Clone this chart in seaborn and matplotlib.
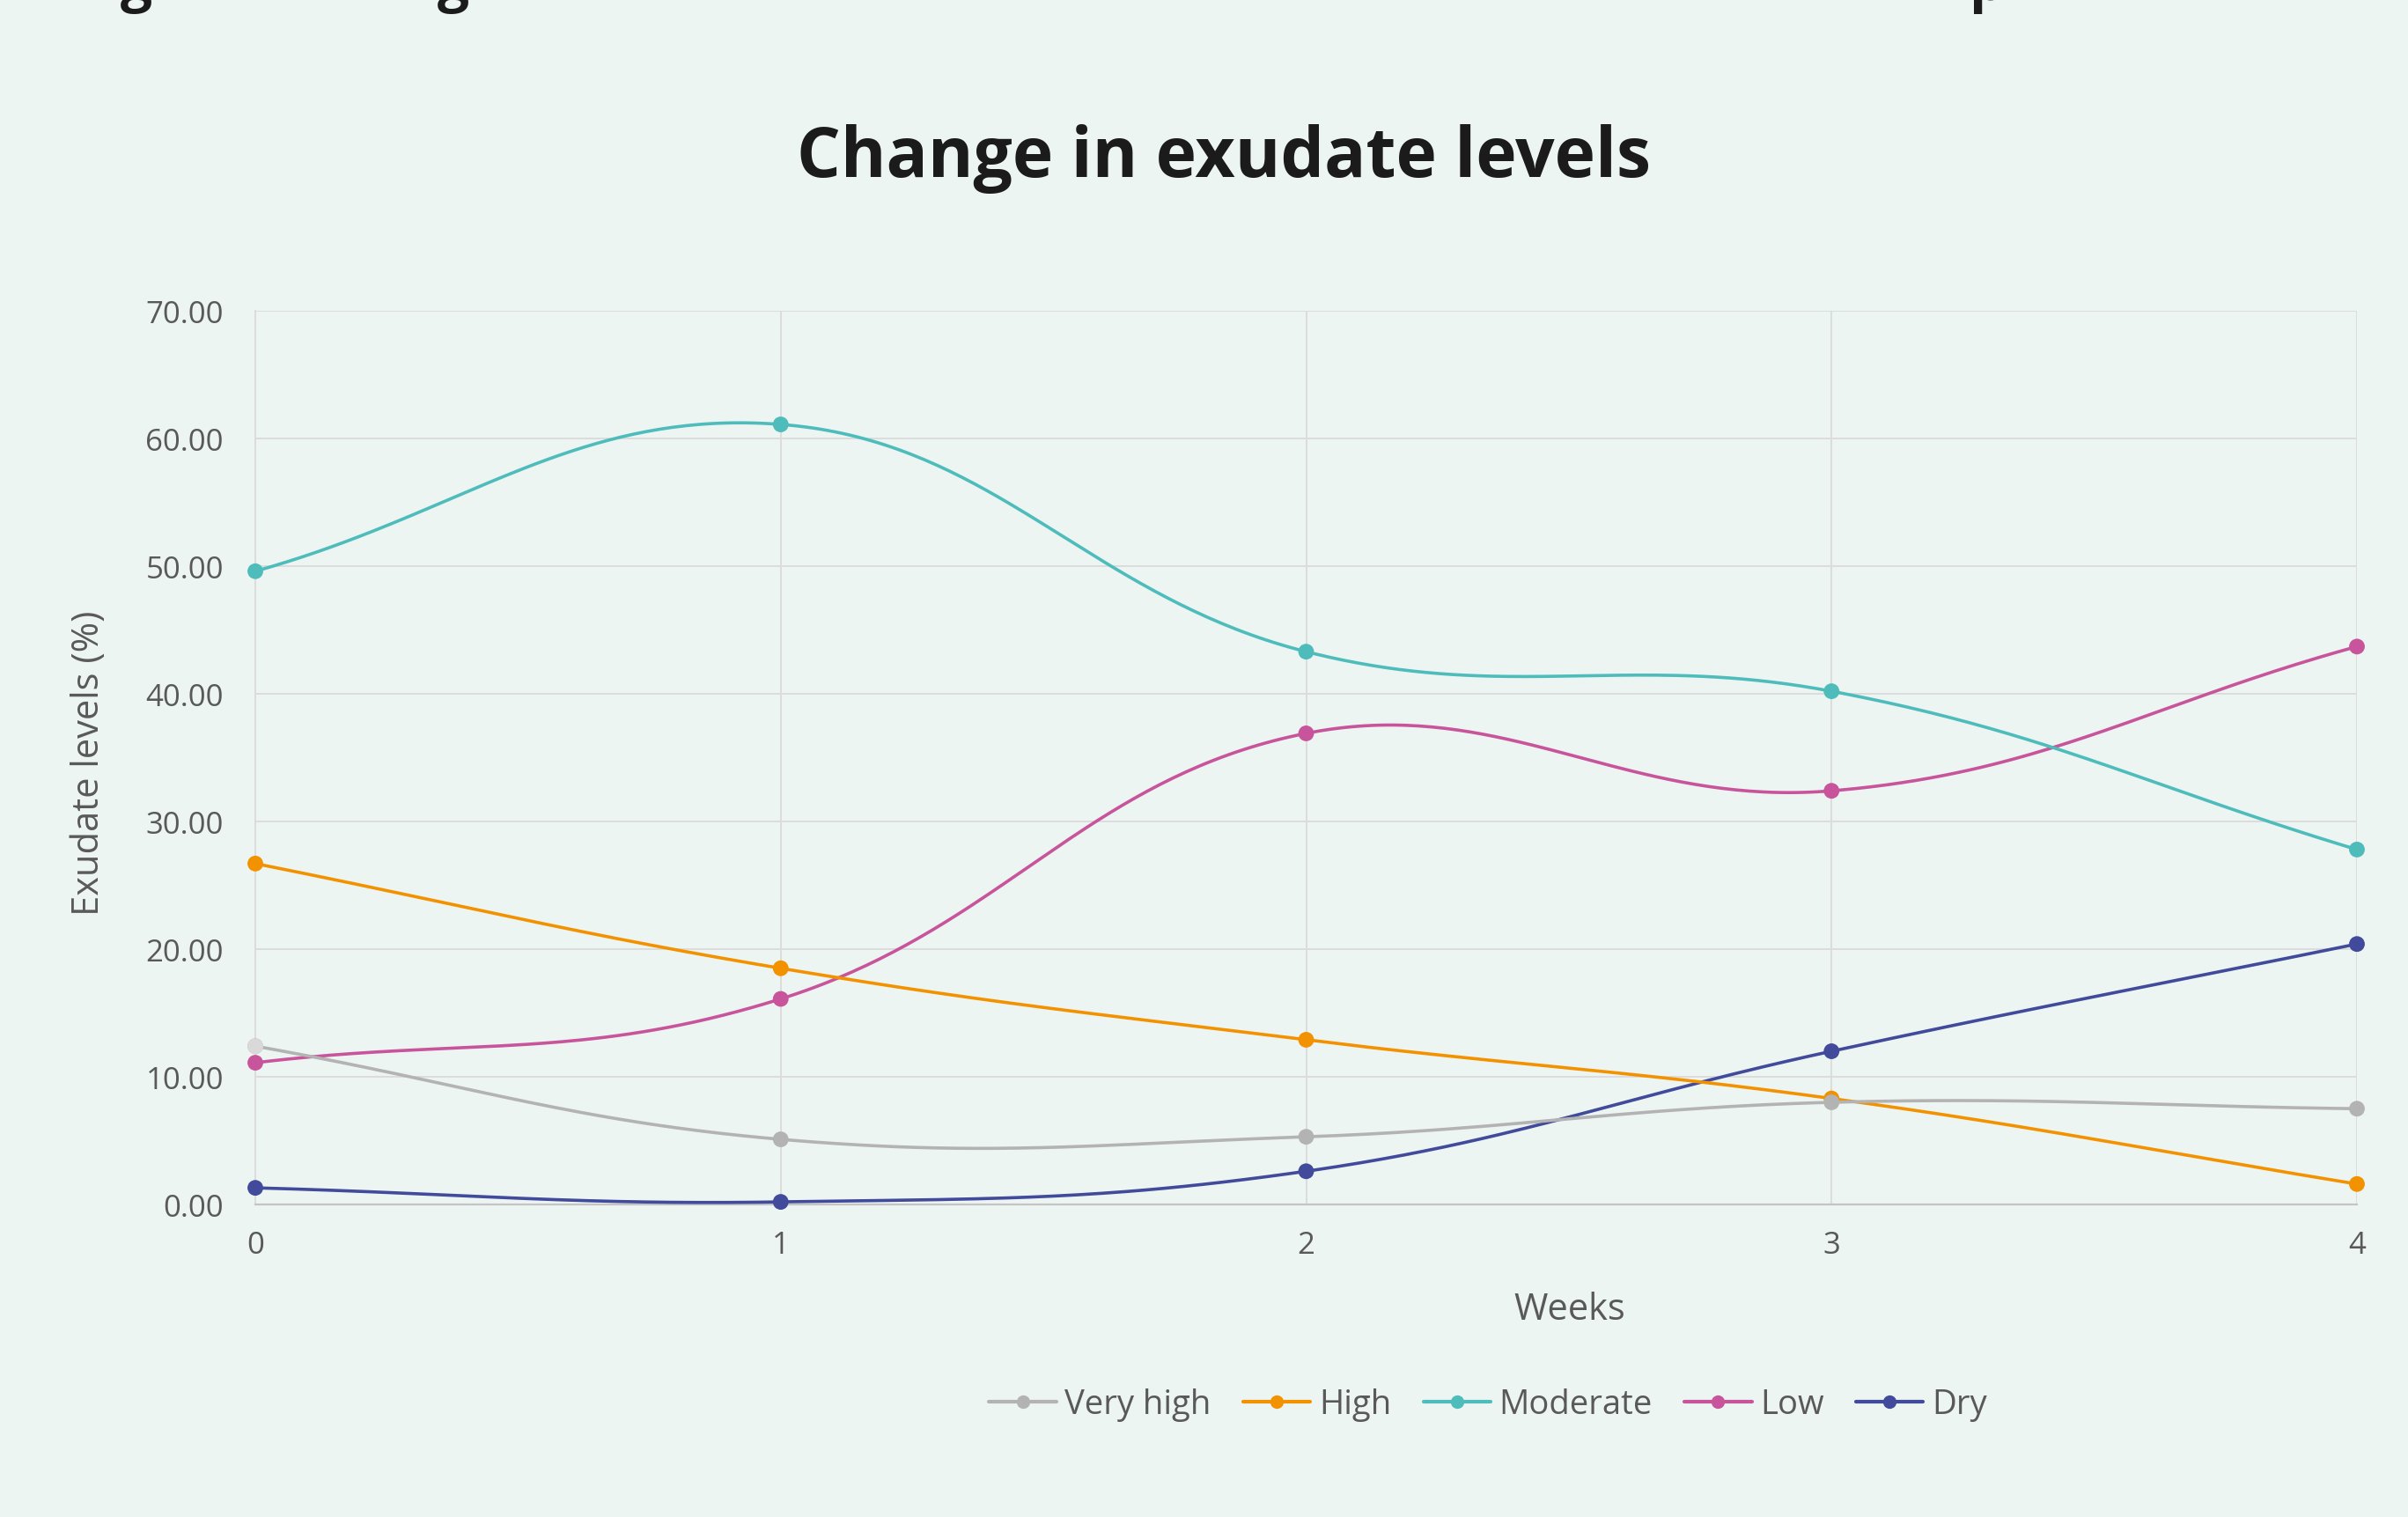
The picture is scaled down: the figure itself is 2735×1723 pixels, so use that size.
import numpy as np
import pandas as pd
import matplotlib
matplotlib.use("Agg")
import matplotlib.pyplot as plt
import seaborn as sns
from matplotlib.lines import Line2D

# ---- data -------------------------------------------------------------
weeks = [0, 1, 2, 3, 4]
series_names = ["Very high", "High", "Moderate", "Low", "Dry"]
very_high = [12.4, 5.1, 5.3, 8.0, 7.5]
high = [26.7, 18.5, 12.9, 8.3, 1.6]
moderate = [49.6, 61.1, 43.3, 40.2, 27.8]
low = [11.1, 16.1, 36.9, 32.4, 43.7]
dry = [1.3, 0.2, 2.6, 12.0, 20.4]
y_ticks = [0, 10, 20, 30, 40, 50, 60, 70]

colors = {
    "Very high": "#b3b3b3",
    "High": "#f39200",
    "Moderate": "#4fbcbc",
    "Low": "#c8559b",
    "Dry": "#414a9b",
}
values = dict(zip(series_names, [very_high, high, moderate, low, dry]))

BG = "#edf5f3"
GRID = "#dcdcdc"
TEXT = "#595959"
FONT = ["Open Sans", "DejaVu Sans"]

sns.set_theme(style="white")
plt.rcParams["font.family"] = FONT

W, H, DPI = 2735, 1724, 100
fig = plt.figure(figsize=(W / DPI, H / DPI), dpi=DPI, facecolor=BG)
ax = fig.add_axes([290 / W, 1 - 1369 / H, (2677 - 290) / W, (1369 - 354) / H])
ax.set_facecolor(BG)
ax.set_xlim(0, 4)
ax.set_ylim(0, 70)


def smooth_curve(xs, ys, tension=0.4, n=80):
    """Bezier spline through the points, control points computed in pixel space."""
    pts = ax.transData.transform(np.column_stack([xs, ys]))
    k = len(pts)
    cp_prev = np.zeros_like(pts)
    cp_next = np.zeros_like(pts)
    for i in range(k):
        prev = pts[i - 1] if i > 0 else pts[i]
        nxt = pts[i + 1] if i < k - 1 else pts[i]
        d01 = np.hypot(*(pts[i] - prev))
        d12 = np.hypot(*(nxt - pts[i]))
        tot = d01 + d12
        s01 = d01 / tot if tot else 0.0
        s12 = d12 / tot if tot else 0.0
        cp_prev[i] = pts[i] - tension * s01 * (nxt - prev)
        cp_next[i] = pts[i] + tension * s12 * (nxt - prev)
    t = np.linspace(0, 1, n)[:, None]
    segs = []
    for i in range(k - 1):
        p0, p1, p2, p3 = pts[i], cp_next[i], cp_prev[i + 1], pts[i + 1]
        seg = (1 - t) ** 3 * p0 + 3 * (1 - t) ** 2 * t * p1 + 3 * (1 - t) * t ** 2 * p2 + t ** 3 * p3
        segs.append(seg if i == 0 else seg[1:])
    curve = ax.transData.inverted().transform(np.vstack(segs))
    return curve[:, 0], curve[:, 1]


# long-form tables for seaborn
curve_rows = []
point_rows = []
for name in series_names:
    cx, cy = smooth_curve(weeks, values[name])
    for j, (a, b) in enumerate(zip(cx, cy)):
        curve_rows.append({"series": name, "order": j, "week": a, "value": b})
    for w, v in zip(weeks, values[name]):
        point_rows.append({"series": name, "week": w, "value": v})
curves = pd.DataFrame(curve_rows)
points = pd.DataFrame(point_rows)

draw_order = series_names[::-1]
for z, name in enumerate(draw_order):
    sub = curves[curves["series"] == name]
    sns.lineplot(data=sub, x="week", y="value", color=colors[name], sort=False,
                 estimator=None, linewidth=2.6, ax=ax, legend=False, zorder=3 + z)
    psub = points[points["series"] == name]
    sns.scatterplot(data=psub, x="week", y="value", color=colors[name], s=165,
                    edgecolor="none", linewidth=0, ax=ax, legend=False,
                    zorder=3.5 + z, clip_on=False)

# the first "Very high" point is shown in a lighter, highlighted tone
first = points[(points["series"] == "Very high") & (points["week"] == weeks[0])]
sns.scatterplot(data=first, x="week", y="value", color="#d9d9d9", s=165,
                edgecolor="none", linewidth=0, ax=ax, legend=False, zorder=20,
                clip_on=False)

# ---- axes styling ------------------------------------------------------
ax.set_xticks(weeks)
ax.set_xticklabels([str(w) for w in weeks])
ax.set_yticks(y_ticks)
ax.set_yticklabels([f"{v:.2f}" for v in y_ticks])
ax.grid(True, color=GRID, linewidth=1.4, zorder=0)
ax.set_axisbelow(True)
for side in ["top", "right"]:
    ax.spines[side].set_visible(False)
ax.spines["left"].set_color(GRID)
ax.spines["left"].set_linewidth(1.4)
ax.spines["bottom"].set_color("#c4c4c4")
ax.spines["bottom"].set_linewidth(1.6)
ax.tick_params(axis="both", colors=GRID, width=1.4, length=9, labelcolor=TEXT,
               labelsize=25)
ax.tick_params(axis="y", pad=17)
ax.tick_params(axis="x", pad=12)
ax.set_xlabel("")
ax.set_ylabel("Exudate levels (%)", fontsize=30, color=TEXT)
ax.yaxis.set_label_coords(-0.0704, 0.4946)

fig.text(1783 / W, 1 - 1488 / H, "Weeks", fontsize=30, color=TEXT,
         ha="center", va="center")

fig.text(1390 / W, 1 - 180 / H, "Change in exudate levels", fontsize=56.5,
         fontweight="bold", color="#1b1b1b", ha="center", va="center")

# heading line above the chart, only its descenders reach into view
for x0, ch in [(155, "g"), (515, "g"), (2237, "p")]:
    fig.text(x0 / W, 1.0, ch, fontsize=46, fontweight="bold", color="#1b1b1b",
             ha="center" if ch == "g" else "left", va="baseline")

handles = [Line2D([0], [0], color=colors[n], linewidth=3, marker="o",
                  markersize=11, markeredgewidth=0) for n in series_names]
leg = fig.legend(handles, series_names, loc="center",
                 bbox_to_anchor=(1690 / W, 1 - 1596 / H), ncol=5, frameon=False,
                 fontsize=27.5, handlelength=2.0, handletextpad=0.25,
                 columnspacing=0.95, labelcolor=TEXT)

fig.savefig("out.png", dpi=DPI, facecolor=BG)
